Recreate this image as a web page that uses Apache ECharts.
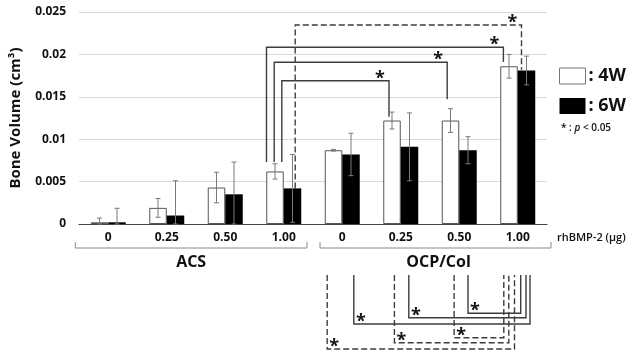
<!DOCTYPE html>
<html>
<head>
<meta charset="utf-8">
<script src="https://cdn.jsdelivr.net/npm/echarts@6/dist/echarts.min.js"></script>
<style>
  html, body { margin: 0; padding: 0; background: #fff; }
  #chart { width: 637px; height: 350px; }
</style>
</head>
<body>
<div id="chart"></div>
<script>
// rhBMP-2 dose per group (ACS x4, OCP/Col x4)
const categories = ['0', '0.25', '0.50', '1.00', '0', '0.25', '0.50', '1.00'];
const groups = ['ACS', 'OCP/Col'];
const yTicks = [0, 0.005, 0.01, 0.015, 0.02, 0.025];

// bone volume (cm3), mean and SD
const w4 = [0.0002, 0.0019, 0.0043, 0.0062, 0.0087, 0.0122, 0.0122, 0.0186];
const w4err = [0.0005, 0.0011, 0.0018, 0.0009, 0.0001, 0.0010, 0.0014, 0.0014];
const w6 = [0.0002, 0.0010, 0.0035, 0.0042, 0.0082, 0.0091, 0.0087, 0.0181];
const w6err = [0.00165, 0.0041, 0.0038, 0.0040, 0.0025, 0.0040, 0.0016, 0.0017];

const FONT = 'Open Sans';
const TXT = '#111';
const LINE = '#3d3d3d';
const BAR_W = 17.5;

const chart = echarts.init(document.getElementById('chart'));

// error bars drawn on top of the bars
function errSeries(vals, errs, shift) {
  return {
    type: 'custom',
    z: 5,
    silent: true,
    data: vals.map((v, i) => [i, v, errs[i]]),
    renderItem: (params, api) => {
      const v = api.value(1), e = api.value(2);
      const hi = api.coord([api.value(0), v + e]);
      const lo = api.coord([api.value(0), Math.max(0, v - e)]);
      const x = hi[0] + shift;
      const st = { stroke: '#7a7a7a', lineWidth: 1 };
      return {
        type: 'group',
        children: [
          { type: 'line', shape: { x1: x, y1: hi[1], x2: x, y2: lo[1] }, style: st },
          { type: 'line', shape: { x1: x - 2.5, y1: hi[1], x2: x + 2.5, y2: hi[1] }, style: st },
          { type: 'line', shape: { x1: x - 2.5, y1: lo[1], x2: x + 2.5, y2: lo[1] }, style: st }
        ]
      };
    }
  };
}

chart.setOption({
  animation: false,
  grid: { left: 73, right: 90, top: 12, bottom: 126 },
  legend: {
    orient: 'vertical',
    left: 554,
    top: 62,
    itemWidth: 26,
    itemHeight: 16,
    itemGap: 12,
    icon: 'rect',
    formatter: ': {name}',
    textStyle: { fontFamily: FONT, fontWeight: 'bold', fontSize: 18, color: TXT, padding: [0, 0, 0, -2] },
    data: [
      { name: '4W', itemStyle: { color: '#fff', borderColor: '#777', borderWidth: 1 } },
      { name: '6W', itemStyle: { color: '#000' } }
    ]
  },
  xAxis: {
    type: 'category',
    data: categories,
    axisLine: { lineStyle: { color: '#444', width: 1.2 } },
    axisTick: { show: false },
    axisLabel: { fontFamily: FONT, fontWeight: 'bold', fontSize: 12, color: TXT, margin: 8 }
  },
  yAxis: {
    type: 'value',
    min: 0,
    max: 0.025,
    interval: 0.005,
    name: 'Bone Volume (cm³)',
    nameLocation: 'middle',
    nameGap: 56,
    nameTextStyle: { fontFamily: FONT, fontWeight: 'bold', fontSize: 15, color: TXT },
    axisLine: { show: false },
    axisTick: { show: false },
    splitLine: { lineStyle: { color: '#d9d9d9' } },
    axisLabel: {
      fontFamily: FONT, fontWeight: 'bold', fontSize: 12, color: TXT, margin: 13,
      formatter: v => (yTicks.indexOf(v) >= 0 ? String(+v.toFixed(3)) : '')
    }
  },
  series: [
    {
      name: '4W', type: 'bar', data: w4, barWidth: BAR_W, barGap: '0%',
      itemStyle: { color: '#fff', borderColor: '#555', borderWidth: 1 }
    },
    {
      name: '6W', type: 'bar', data: w6, barWidth: BAR_W, barGap: '0%',
      itemStyle: { color: '#000' }
    },
    errSeries(w4, w4err, -BAR_W / 2),
    errSeries(w6, w6err, BAR_W / 2)
  ]
});

// ---- annotations (brackets, stars, group labels) ----
const cx = i => chart.convertToPixel({ xAxisIndex: 0 }, i);
const cy = v => chart.convertToPixel({ yAxisIndex: 0 }, v);
const band = cx(1) - cx(0);
const bx = (cat, s, off) => cx(cat) + (s === 0 ? -BAR_W / 2 : BAR_W / 2) + off;
const y0 = cy(0);

const g = [];
function bracket(pts, dashed) {
  g.push({
    type: 'polyline', silent: true, z: 10,
    shape: { points: pts },
    style: { stroke: LINE, lineWidth: 1.4, fill: null, lineDash: dashed ? [6, 3] : null }
  });
}
function star(x, y) {
  g.push({
    type: 'text', z: 11, x: x, y: y,
    style: { text: '*', font: 'bold 18px "' + FONT + '"', fill: TXT, align: 'center', verticalAlign: 'middle' }
  });
}

// significance above the bars: [fromCat, fromSer, fromOff, fromVal, toCat, toSer, toOff, toVal, topVal, dashed]
const topMarks = [
  [3, 0, -8.5, 0.0073, 7, 0, -5.6, 0.0191, 0.02084, false],
  [3, 0, -0.8, 0.0073, 6, 0, -3.3, 0.0147, 0.01907, false],
  [3, 0, 6.8, 0.0073, 5, 0, -3.0, 0.01265, 0.0169, false],
  [3, 1, 2.7, 0.0042, 7, 1, -5.0, 0.0182, 0.02347, true]
];
topMarks.forEach(m => {
  const x1 = bx(m[0], m[1], m[2]), x2 = bx(m[4], m[5], m[6]), yh = cy(m[8]);
  bracket([[x1, cy(m[3])], [x1, yh], [x2, yh], [x2, cy(m[7])]], m[9]);
  star(x2 - 9, yh - 2);
});

// significance below the axis: [fromCat, fromSer, fromOff, toCat, toSer, toOff, depth px, dashed]
const lowMarks = [
  [6, 1, 0.0, 7, 1, -5.8, 89.3, false],
  [5, 1, -0.7, 7, 1, -0.5, 93.7, false],
  [4, 1, 2.8, 7, 1, 3.5, 100, false],
  [6, 0, 3.6, 7, 0, -5.2, 113.7, true],
  [5, 0, 2.4, 7, 0, -0.2, 118.7, true],
  [4, 0, -6.3, 7, 0, 5.5, 125, true]
];
lowMarks.forEach(m => {
  const x1 = bx(m[0], m[1], m[2]), x2 = bx(m[3], m[4], m[5]), yh = y0 + m[6], yt = y0 + 51;
  bracket([[x1, yt], [x1, yh], [x2, yh], [x2, yt]], m[7]);
  star(x1 + 7, yh - 2);
});

// group brackets under the dose labels
const spans = [
  [cx(0) - band / 2 - 3.7, cx(3) + band / 2 - 6],
  [cx(4) - band / 2 + 7, cx(7) + band / 2 + 4]
];
spans.forEach((s, i) => {
  g.push({
    type: 'polyline', silent: true,
    shape: { points: [[s[0], y0 + 18], [s[0], y0 + 24], [s[1], y0 + 24], [s[1], y0 + 18]] },
    style: { stroke: '#8a8a8a', lineWidth: 1, fill: null }
  });
  g.push({
    type: 'text', x: (s[0] + s[1]) / 2 + (i === 1 ? 3 : 0), y: y0 + 38,
    style: { text: groups[i], font: 'bold 16px "' + FONT + '"', fill: TXT, align: 'center', verticalAlign: 'middle' }
  });
});

// axis title for doses and p note
g.push({
  type: 'text', x: cx(7) + band / 2 + 10, y: y0 + 14,
  style: { text: 'rhBMP-2 (μg)', font: '600 11px "' + FONT + '"', fill: TXT, align: 'left', verticalAlign: 'middle' }
});
g.push({
  type: 'text', x: 561, y: 128,
  style: {
    text: '{a|* : }{b|p}{a| < 0.05}',
    align: 'left', verticalAlign: 'middle',
    rich: {
      a: { fontFamily: FONT, fontSize: 10, fontWeight: 600, fill: TXT },
      b: { fontFamily: FONT, fontSize: 10, fontWeight: 600, fontStyle: 'italic', fill: TXT }
    }
  }
});

chart.setOption({ graphic: g });
</script>
</body>
</html>
